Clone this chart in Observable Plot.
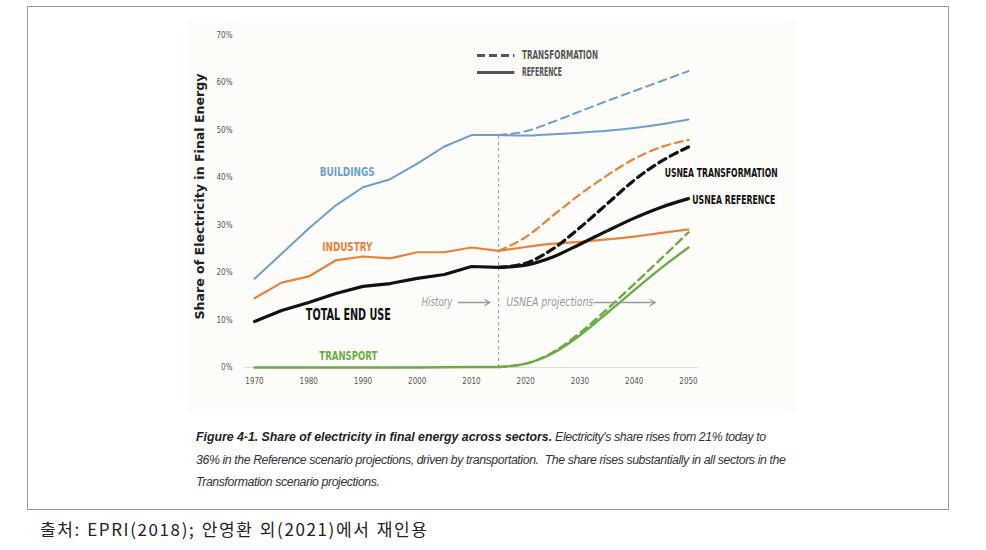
<!DOCTYPE html>
<html>
<head>
<meta charset="utf-8">
<script src="https://cdn.jsdelivr.net/npm/d3@7"></script>
<script src="https://cdn.jsdelivr.net/npm/@observablehq/plot@0.6"></script>
<style>
  html, body { margin: 0; padding: 0; background: #ffffff; }
  body { width: 986px; height: 550px; position: relative; overflow: hidden; }
  #box { position: absolute; left: 27px; top: 6px; width: 922px; height: 504px; border: 1.5px solid #9a9a9a; box-sizing: border-box; }
  #bg { position: absolute; left: 188px; top: 20px; width: 608px; height: 392px; background: #fefcf9; }
  #chart { position: absolute; left: 0; top: 0; }
  #caption { position: absolute; left: 196px; top: 426px; width: 620px; font-family: "Liberation Sans", Arial, sans-serif; font-style: italic; font-size: 12.3px; line-height: 22.5px; color: #333; letter-spacing: -0.4px; }
  #caption b { font-weight: bold; letter-spacing: 0px; color: #222; }
  #source { position: absolute; left: 40px; top: 516px; font-family: "Noto Sans CJK KR", sans-serif; font-size: 17px; color: #222; letter-spacing: 1.6px; word-spacing: 1px; }
</style>
</head>
<body>
<div id="box"></div>
<div id="bg"></div>
<div id="chart"></div>
<div id="caption"><b>Figure 4-1. Share of electricity in final energy across sectors.</b> Electricity's share rises from 21% today to<br>36% in the Reference scenario projections, driven by transportation.&nbsp; The share rises substantially in all sectors in the<br>Transformation scenario projections.</div>
<div id="source">출처: EPRI(2018); 안영환 외(2021)에서 재인용</div>
<script>
// ---------- data ----------
const histYears = [1970, 1975, 1980, 1985, 1990, 1995, 2000, 2005, 2010, 2015];
const projYears = [2015, 2020, 2025, 2030, 2035, 2040, 2045, 2050];

const buildingsHist = [18.7, 24.0, 29.3, 34.2, 38.0, 39.7, 43.0, 46.6, 49.0, 49.0];
const industryHist  = [14.6, 17.9, 19.2, 22.6, 23.4, 23.0, 24.3, 24.3, 25.3, 24.6];
const totalHist     = [9.7, 12.0, 13.7, 15.6, 17.1, 17.7, 18.8, 19.6, 21.3, 21.1];
const transportHist = [0, 0, 0, 0, 0, 0, 0, 0.05, 0.1, 0.1];

const buildingsRef   = [49.0, 48.9, 49.2, 49.5, 49.9, 50.5, 51.3, 52.3];
const buildingsTrans = [49.0, 49.8, 51.8, 54.0, 56.2, 58.3, 60.4, 62.5];
const industryRef    = [24.6, 25.4, 26.1, 26.5, 27.0, 27.6, 28.4, 29.1];
const industryTrans  = [24.6, 27.5, 32.0, 36.5, 40.5, 44.0, 46.5, 48.0];
const totalRef       = [21.1, 21.6, 23.3, 26.0, 28.8, 31.5, 33.8, 35.6];
const totalTrans     = [21.1, 22.0, 25.0, 29.5, 34.5, 39.5, 43.5, 46.5];
const transportRef   = [0.1, 0.8, 3.0, 6.8, 11.5, 16.3, 21.0, 25.3];
const transportTrans = [0.1, 0.8, 3.2, 7.3, 12.3, 17.6, 23.0, 28.5];

const sectors = ["Buildings", "Industry", "Total", "Transport"];
const sectorLabels = ["BUILDINGS", "INDUSTRY", "TOTAL END USE", "TRANSPORT"];
const sectorColors = ["#6b9fd1", "#e8823a", "#111111", "#6aac47"];

const xTicks = [1970, 1980, 1990, 2000, 2010, 2020, 2030, 2040, 2050];
const yTicks = [0, 10, 20, 30, 40, 50, 60, 70];
const yLabel = "Share of Electricity in Final Energy";
const legendLabels = ["TRANSFORMATION", "REFERENCE"];
const endLabels = ["USNEA TRANSFORMATION", "USNEA REFERENCE"];
const historyLabel = "History";
const projectionLabel = "USNEA projections";
const splitYear = 2015;

// ---------- build tables ----------
const hist = [buildingsHist, industryHist, totalHist, transportHist];
const refs = [buildingsRef, industryRef, totalRef, transportRef];
const trans = [buildingsTrans, industryTrans, totalTrans, transportTrans];
const rows = [];
sectors.forEach((s, i) => {
  histYears.forEach((yr, j) => rows.push({sector: s, scen: "hist", year: yr, value: hist[i][j]}));
  projYears.forEach((yr, j) => rows.push({sector: s, scen: "ref", year: yr, value: refs[i][j]}));
  projYears.forEach((yr, j) => rows.push({sector: s, scen: "trans", year: yr, value: trans[i][j]}));
});
const sel = (s, sc) => rows.filter(d => d.sector === s && d.scen === sc);
const widths = {Buildings: 2, Industry: 2.2, Total: 3.2, Transport: 2.4};

const lineMarks = [];
sectors.forEach((s, i) => {
  const c = sectorColors[i];
  lineMarks.push(Plot.line(sel(s, "trans"), {x: "year", y: "value", stroke: c, strokeWidth: widths[s], strokeDasharray: "8,5", curve: "monotone-x"}));
  lineMarks.push(Plot.line(sel(s, "ref"), {x: "year", y: "value", stroke: c, strokeWidth: widths[s], curve: "monotone-x"}));
  lineMarks.push(Plot.line(sel(s, "hist"), {x: "year", y: "value", stroke: c, strokeWidth: widths[s]}));
});

const condensed = "'DejaVu Sans Condensed', 'DejaVu Sans', sans-serif";
// label placement (data units) and fitted widths (px)
const sectorLabelPos = [
  {x: 1987.1, y: 41.2, size: 13},
  {x: 1987.1, y: 25.4, size: 13},
  {x: 1987.3, y: 11.0, size: 16},
  {x: 1987.3, y: 2.4, size: 13}
];
const labelMarks = sectorLabels.map((t, i) => Plot.text([t], {
  x: sectorLabelPos[i].x, y: sectorLabelPos[i].y, text: d => d,
  fill: sectorColors[i], fontSize: sectorLabelPos[i].size, fontWeight: "bold", textAnchor: "middle",
  fontFamily: condensed, className: "fit" + i
}));

const chart = Plot.plot({
  width: 986,
  height: 400,
  marginLeft: 254,
  marginRight: 298,
  marginTop: 35,
  marginBottom: 33,
  style: {fontFamily: condensed, fontSize: "8px", color: "#555", background: "transparent", overflow: "visible"},
  x: {domain: [1970, 2050], ticks: xTicks, tickFormat: d => String(d), tickSize: 0, tickPadding: 11, label: null},
  y: {domain: [0, 70], ticks: yTicks, tickFormat: d => d + "%", tickSize: 0, tickPadding: 22, label: null},
  marks: [
    Plot.ruleY([0], {x1: 1968.2, x2: 2052, stroke: "#ddd", strokeWidth: 1}),
    Plot.ruleX([splitYear], {y1: 0, y2: 49, stroke: "#999", strokeWidth: 1, strokeDasharray: "3,3"}),
    ...lineMarks,
    ...labelMarks,
    // y axis title
    Plot.text([yLabel], {frameAnchor: "left", rotate: -90, dx: -54, dy: -5, textAnchor: "middle", text: d => d, fontSize: 12, fontWeight: "bold", fill: "#222", className: "ylab"}),
    // annotations
    Plot.text([historyLabel], {x: 2006.5, y: 13.7, text: d => d, textAnchor: "end", fontSize: 12, fontStyle: "italic", fill: "#9a9a9a", className: "fitHist"}),
    Plot.arrow([0], {x1: 2007.6, x2: 2013.4, y1: 13.7, y2: 13.7, stroke: "#9a9a9a", strokeWidth: 1.3, headLength: 7}),
    Plot.text([projectionLabel], {x: 2016.4, y: 13.7, text: d => d, textAnchor: "start", fontSize: 12, fontStyle: "italic", fill: "#9a9a9a", className: "fitProj"}),
    Plot.arrow([0], {x1: 2032.6, x2: 2043.9, y1: 13.7, y2: 13.7, stroke: "#9a9a9a", strokeWidth: 1.3, headLength: 7}),
    // legend
    Plot.ruleY([65.8], {x1: 2011.1, x2: 2018.0, stroke: "#555", strokeWidth: 3, strokeDasharray: "8,4"}),
    Plot.ruleY([62.2], {x1: 2011.1, x2: 2018.0, stroke: "#555", strokeWidth: 3}),
    Plot.text([legendLabels[0]], {x: 2019.3, y: 65.8, text: d => d, textAnchor: "start", fontSize: 12, fontWeight: "bold", fill: "#555", className: "fitLeg0"}),
    Plot.text([legendLabels[1]], {x: 2019.3, y: 62.2, text: d => d, textAnchor: "start", fontSize: 12, fontWeight: "bold", fill: "#555", className: "fitLeg1"}),
    // end labels
    Plot.text([endLabels[0]], {x: 2045.6, y: 41.0, text: d => d, textAnchor: "start", fontSize: 12, fontWeight: "bold", fill: "#111", className: "fitEnd0"}),
    Plot.text([endLabels[1]], {x: 2050.7, y: 35.3, text: d => d, textAnchor: "start", fontSize: 12, fontWeight: "bold", fill: "#111", className: "fitEnd1"})
  ]
});
document.getElementById("chart").appendChild(chart);

// fit label widths to the reference (condensed look)
const fits = {fit0: 55, fit1: 50, fit2: 85, fit3: 58, fitHist: 31, fitProj: 87, fitLeg0: 76, fitLeg1: 40, fitEnd0: 113, fitEnd1: 83, ylab: 246};
Object.entries(fits).forEach(([cls, w]) => {
  d3.select(chart).selectAll("." + cls + " text").attr("textLength", w).attr("lengthAdjust", "spacingAndGlyphs");
});
</script>
</body>
</html>
